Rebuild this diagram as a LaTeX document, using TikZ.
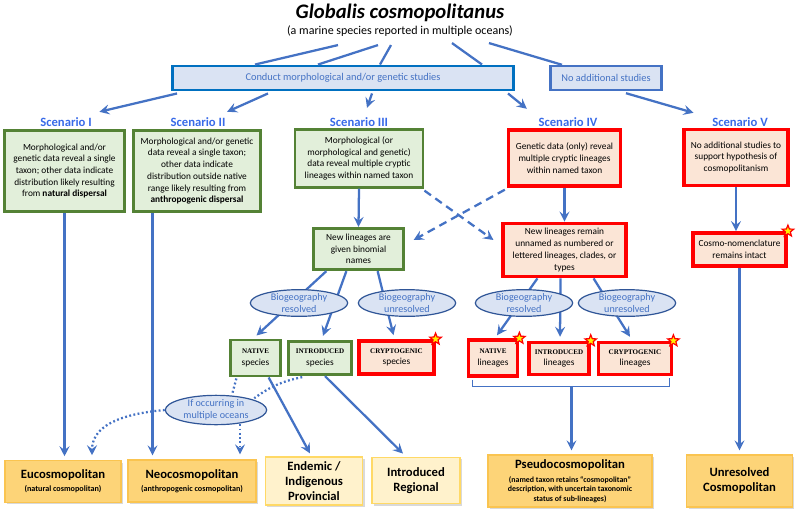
\documentclass[tikz,border=0pt]{standalone}
\usepackage{fontspec}
\setmainfont{Carlito}
\newfontfamily\capfont{Liberation Serif}
\usetikzlibrary{calc, shapes.geometric, arrows.meta, shadows}

\definecolor{arrblue}{RGB}{68,114,196}
\definecolor{scenblue}{RGB}{56,106,232}
\definecolor{studyline}{RGB}{0,112,192}
\definecolor{paleblue}{RGB}{218,227,243}
\definecolor{ellline}{RGB}{47,85,151}
\definecolor{grnline}{RGB}{84,130,53}
\definecolor{grnfill}{RGB}{226,239,218}
\definecolor{redfill}{RGB}{251,229,214}
\definecolor{orfill}{RGB}{253,212,120}
\definecolor{orline}{RGB}{250,196,80}
\definecolor{yelfill}{RGB}{255,242,204}
\definecolor{yelline}{RGB}{255,217,102}

\newcommand{\fsz}[2]{\fontsize{#1}{#2}\selectfont}

\begin{document}
\begin{tikzpicture}
    [x=0.75pt, y=-0.75pt,
     conn/.style={draw=arrblue, line width=1.7pt},
     arr/.style={conn, -{Stealth[length=7.5pt, width=7.5pt, inset=2.8pt]}},
     dashedarr/.style={arr, dashed, dash pattern=on 6pt off 4pt},
     dotline/.style={conn, line width=1.7pt, dash pattern=on 1.4pt off 1.8pt},
     dotarr/.style={dotline, -{Stealth[length=7.5pt, width=7.5pt, inset=2.8pt]}},
     scen/.style={text=scenblue, font=\bfseries\fsz{9.5}{11}},
     study/.style={draw=studyline, line width=2.2pt, fill=paleblue, text=arrblue,
                   font=\fsz{7.8}{9}, inner sep=0pt},
     grnbox/.style={draw=grnline, line width=2.6pt, fill=grnfill, align=center,
                    font=\fsz{7}{8.8}, inner sep=0pt},
     redbox/.style={draw=red, line width=2.6pt, fill=redfill, align=center,
                    font=\fsz{7}{8.8}, inner sep=0pt},
     bio/.style={ellipse, draw=ellline, line width=0.9pt, fill=paleblue, text=arrblue,
                 align=center, font=\fsz{7.6}{8.6}, inner sep=0pt,
                 minimum width=73pt, minimum height=20pt},
     outbox/.style={draw=orline, line width=0.9pt, fill=orfill, align=center, inner sep=0pt,
                    drop shadow={shadow xshift=1.5pt, shadow yshift=-1.5pt, opacity=.3}},
     endbox/.style={outbox, draw=yelline, fill=yelfill},
     starmark/.style={star, star points=5, star point ratio=2.3, minimum size=9pt, inner sep=0pt,
                  fill=yellow, draw=red, line width=0.9pt}]

    \useasboundingbox (0,0) rectangle (800,511);

    \node (title) at (400,13) {\bfseries\itshape\fsz{15.5}{17}Globalis cosmopolitanus};
    \node (sub) at (400,31) {\fsz{9}{10}(a marine species reported in multiple oceans)};

    \node[study, minimum width=256pt, minimum height=18pt] (conduct) at (343,78)
      {Conduct morphological and/or genetic studies};
    \node[study, draw=arrblue, line width=1.8pt, minimum width=83pt, minimum height=18pt] (noadd) at (606,78)
      {No additional studies};

    \draw[conn] ($(sub.south)+(-62,4)$) -- ($(conduct.north)+(-88,0)$);
    \draw[conn] ($(sub.south)+(-22,4)$) -- ($(conduct.north)+(-25,0)$);
    \draw[conn] ($(sub.south)+(-9,4)$) -- ($(conduct.north)+(37,0)$);
    \draw[conn] ($(sub.south)+(52,2)$) -- ($(conduct.north)+(139,0)$);
    \draw[conn] ($(sub.south)+(89,2)$) -- ($(noadd.north)+(-44,0)$);

    % scenarios
    \node[scen] (lab1) at (66,122) {Scenario I};
    \node[scen] (lab2) at (198,122) {Scenario II};
    \node[scen] (lab3) at (359,122) {Scenario III};
    \node[scen] (lab4) at (568,122) {Scenario IV};
    \node[scen] (lab5) at (740,122) {Scenario V};

    \draw[arr] ($(conduct.south)+(-166,2)$) -- ($(lab1.north east)+(3,-1)$);
    \draw[arr] ($(conduct.south)+(-75,2)$) -- ($(lab2.north east)+(-3,-1)$);
    \draw[arr] ($(conduct.south)+(29,2)$) -- ($(lab3.north)+(8,-5)$);
    \draw[arr] ($(conduct.south)+(165,2)$) -- ($(lab4.north west)+(-7,-4)$);
    \draw[arr] ($(noadd.south)+(20,2)$) -- ($(lab5.north west)+(-14,0)$);

    \node[grnbox, minimum width=90pt, minimum height=61pt] (box1) at (64.5,171)
      {Morphological and/or\\genetic data reveal a single\\taxon; other data indicate\\distribution likely resulting\\from \textbf{natural dispersal}};
    \node[grnbox, minimum width=95pt, minimum height=61pt] (box2) at (197,171)
      {Morphological and/or genetic\\data reveal a single taxon;\\other data indicate\\distribution outside native\\range likely resulting from\\\textbf{anthropogenic dispersal}};
    \node[grnbox, line width=2.2pt, minimum width=96pt, minimum height=43pt] (box3) at (359,158.5)
      {Morphological (or\\morphological and genetic)\\data reveal multiple cryptic\\lineages within named taxon};
    \node[redbox, minimum width=84pt, minimum height=42pt] (box4) at (564.5,158)
      {Genetic data (only) reveal\\multiple cryptic lineages\\within named taxon};
    \node[redbox, minimum width=78pt, minimum height=42pt] (box5) at (736,157.5)
      {No additional studies to\\support hypothesis of\\cosmopolitanism};

    % second row
    \node[grnbox, line width=2.2pt, minimum width=67pt, minimum height=31pt] (new1) at (358.5,249)
      {New lineages are\\given binomial\\names};
    \node[redbox, minimum width=92pt, minimum height=40pt] (new2) at (564.5,250)
      {New lineages remain\\unnamed as numbered or\\lettered lineages, clades, or\\types};
    \node[redbox, minimum width=70pt, minimum height=25pt] (cosmo) at (739.5,249.5)
      {Cosmo-nomenclature\\remains intact};

    \draw[arr] (box3.south) -- (new1.north);
    \draw[arr] (box4.south) -- (new2.north);
    \draw[arr] (box5.south) -- (box5.south |- cosmo.north);
    \draw[dashedarr] ($(box3.south east)+(0,2)$) -- ($(new2.west)+(-8,-10)$);
    \draw[dashedarr] ($(box4.south west)+(-2,2)$) -- ($(new1.east)+(9,-9)$);

    % third row
    \node[grnbox, line width=2.2pt, minimum width=37pt, minimum height=27pt] (nat1) at (255.5,358)
      {\capfont\fsz{5.3}{7.3}\textbf{NATIVE}\\species};
    \node[grnbox, line width=2.2pt, minimum width=47pt, minimum height=25pt] (intro1) at (320,358)
      {\capfont\fsz{5.3}{7.3}\textbf{INTRODUCED}\\species};
    \node[redbox, minimum width=56pt, minimum height=25pt] (crypt1) at (396.5,357.5)
      {\capfont\fsz{5.3}{7.3}\textbf{CRYPTOGENIC}\\species};
    \node[redbox, minimum width=37pt, minimum height=27pt] (nat2) at (493,358)
      {\capfont\fsz{5.3}{7.3}\textbf{NATIVE}\\lineages};
    \node[redbox, minimum width=45pt, minimum height=24pt] (intro2) at (559,358.5)
      {\capfont\fsz{5.3}{7.3}\textbf{INTRODUCED}\\lineages};
    \node[redbox, minimum width=55pt, minimum height=24pt] (crypt2) at (635,358.5)
      {\capfont\fsz{5.3}{7.3}\textbf{CRYPTOGENIC}\\lineages};

    \draw[arr] ($(new1.south west)+(14,0)$) -- ($(nat1.north)+(1,-3)$);
    \draw[arr] ($(new1.south west)+(34,0)$) -- ($(intro1.north)+(3,-4)$);
    \draw[arr] ($(new1.south east)+(-27,0)$) -- ($(crypt1.north)+(-3,-4)$);
    \draw[arr] ($(new2.south west)+(36,0)$) -- ($(nat2.north)+(4,-3)$);
    \draw[arr] ($(new2.south)+(-4,0)$) -- ($(intro2.north)+(1,-4)$);
    \draw[arr] ($(new2.south east)+(-34,0)$) -- ($(crypt2.north)+(-5,-4)$);

    \node[bio] (bio1) at (299,303) {Biogeography\\resolved};
    \node[bio] (bio2) at (407,303) {Biogeography\\unresolved};
    \node[bio] (bio3) at (524,303) {Biogeography\\resolved};
    \node[bio] (bio4) at (627,303) {Biogeography\\unresolved};

    \node[starmark] (s1) at (crypt1.north east) {};
    \node[starmark] (s2) at (nat2.north east) {};
    \node[starmark] (s3) at (intro2.north east) {};
    \node[starmark] (s4) at (crypt2.north east) {};
    \node[starmark] (s5) at (cosmo.north east) {};

    % bracket under the lineages
    \coordinate (brl) at ($(nat2.south west)+(6,2)$);
    \coordinate (brr) at ($(crypt2.south east)+(-4,2)$);
    \coordinate (brm) at ($(brl)!0.5!(brr)+(0,7)$);
    \draw[conn, line width=1pt] (brl) -- ++(0,7) -| (brr);

    % outcomes
    \node[outbox, minimum width=87pt, minimum height=31pt, font=\bfseries\fsz{6.1}{7}] (out1) at (63,481.5)
      {{\fsz{9.5}{11}Eucosmopolitan}\\[2.5pt](natural cosmopolitan)};
    \node[outbox, minimum width=96pt, minimum height=31.5pt, font=\bfseries\fsz{6.1}{7}] (out2) at (192,481)
      {{\fsz{9.5}{11}Neocosmopolitan}\\[2.5pt](anthropogenic cosmopolitan)};
    \node[endbox, minimum width=73pt, minimum height=36pt, font=\bfseries\fsz{9.5}{11.3}] (endem) at (314,481)
      {Endemic /\\Indigenous\\Provincial};
    \node[endbox, minimum width=66pt, minimum height=35pt, font=\bfseries\fsz{9.5}{11.3}] (introreg) at (416,480.5)
      {Introduced\\Regional};
    \node[outbox, minimum width=123pt, minimum height=39pt, font=\bfseries\fsz{5.9}{7.1}] (pseudo) at (570,481)
      {{\fsz{9.5}{11}Pseudocosmopolitan}\\[3.4pt](named taxon retains ``cosmopolitan''\\description, with uncertain taxonomic\\status of sub-lineages)};
    \node[outbox, minimum width=79pt, minimum height=39pt, font=\bfseries\fsz{9.5}{11.3}] (unres) at (739.5,481)
      {Unresolved\\Cosmopolitan};

    \node[bio, minimum width=76pt, minimum height=22pt] (ifocc) at (216,410) {If occurring in\\multiple oceans};

    \draw[arr, shorten >=3pt] (box1.south) -- (box1.south |- out1.north);
    \draw[arr, shorten >=3pt] ($(box2.south)+(-44.5,0)$) -- ($(out2.north)+(-39.5,0)$);
    \draw[arr, shorten >=3pt] ($(brm)+(0.5,0)$) -- ($(brm |- pseudo.north)+(0.5,0)$);
    \draw[arr, shorten >=3pt] (cosmo.south) -- (cosmo.south |- unres.north);
    \draw[arr] ($(nat1.south east)+(-13,0)$) -- ($(endem.north)+(-4,-3)$);
    \draw[arr] ($(intro1.south)+(5,0)$) -- ($(introreg.north)+(-13,-3)$);

    \draw[dotline] ($(nat1.south west)+(7,1)$) -- ($(ifocc.north)+(16,0)$);
    \draw[dotline] ($(intro1.south west)+(15,1)$) to[bend right=12] ($(ifocc.north east)+(2,-1)$);
    \draw[dotarr] (ifocc.west) to[out=185, in=90] ($(out1.north)+(29,-5)$);
    \draw[dotarr] ($(ifocc.south)+(24,-1)$) -- ($(out2.north)+(48,-5)$);

  \end{tikzpicture}
\end{document}
